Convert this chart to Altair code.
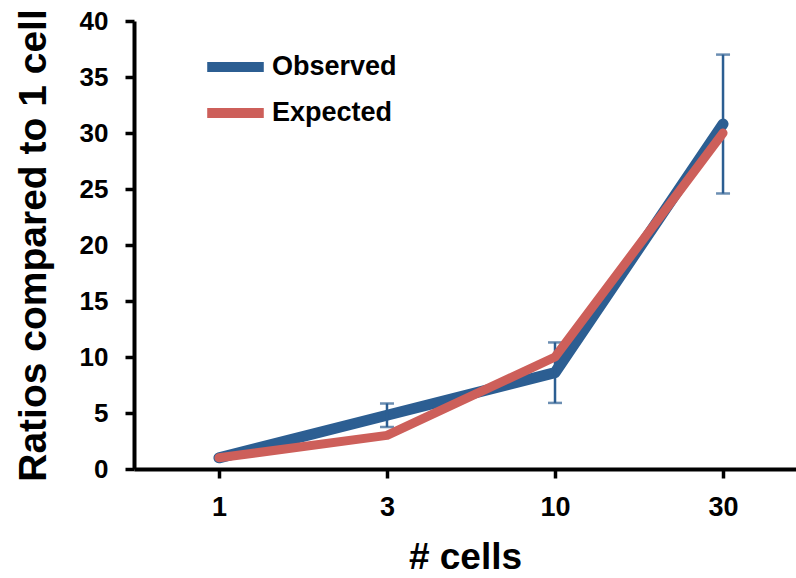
import altair as alt
import pandas as pd

cells = ["1", "3", "10", "30"]
observed = [1.0, 4.8, 8.6, 30.8]
obs_err = [0.0, 1.05, 2.7, 6.2]
expected = [1.0, 3.0, 10.0, 30.0]

series = ["Observed", "Expected"]
colors = ["#2C5E92", "#CD5F5A"]

rows = []
for c, o, e, x in zip(cells, observed, obs_err, expected):
    rows.append({"cells": c, "series": "Observed", "value": o, "lo": o - e, "hi": o + e, "err": e})
    rows.append({"cells": c, "series": "Expected", "value": x, "lo": x, "hi": x, "err": 0.0})
df = pd.DataFrame(rows)

FONT = "Liberation Sans"
xscale = alt.Scale(type="point", domain=cells, padding=0.47, align=0.538)
yscale = alt.Scale(domain=[0, 40], nice=False, zero=True)
cscale = alt.Scale(domain=series, range=colors)

x_enc = alt.X("cells:N", scale=xscale, sort=cells,
              axis=alt.Axis(title="# cells", labelAngle=0, labelFontSize=27,
                            labelPadding=16, titleFontSize=37, titlePadding=19))
y_axis = alt.Axis(title="Ratios compared to 1 cell", values=list(range(0, 41, 5)),
                  labelFontSize=26, labelPadding=17, titleFontSize=39, titlePadding=26,
                  grid=False)

base = alt.Chart(df)

obs_line = base.transform_filter(alt.datum.series == "Observed").mark_line(
    strokeWidth=11, strokeCap="round", strokeJoin="round"
).encode(
    x=x_enc,
    y=alt.Y("value:Q", scale=yscale, axis=y_axis),
    color=alt.Color("series:N", scale=cscale, sort=series,
                    legend=alt.Legend(title=None, orient="none", legendX=68, legendY=23,
                                      symbolType="stroke", symbolSize=3200,
                                      symbolStrokeWidth=10, labelFontSize=27,
                                      labelFontWeight="bold", labelFont=FONT,
                                      labelColor="black", rowPadding=0, clipHeight=46,
                                      labelOffset=3, padding=0)),
)

err_src = base.transform_filter((alt.datum.series == "Observed") & (alt.datum.err > 0))

err_rule = err_src.mark_rule(color=colors[0], strokeWidth=2.5).encode(
    x=alt.X("cells:N", scale=xscale, sort=cells),
    y=alt.Y("lo:Q", scale=yscale),
    y2="hi:Q",
)
err_lo = err_src.mark_tick(color=colors[0], thickness=2.5, size=14).encode(
    x=alt.X("cells:N", scale=xscale, sort=cells),
    y=alt.Y("lo:Q", scale=yscale),
)
err_hi = err_src.mark_tick(color=colors[0], thickness=2.5, size=14).encode(
    x=alt.X("cells:N", scale=xscale, sort=cells),
    y=alt.Y("hi:Q", scale=yscale),
)

exp_line = base.transform_filter(alt.datum.series == "Expected").mark_line(
    strokeWidth=9, strokeCap="round", strokeJoin="round"
).encode(
    x=alt.X("cells:N", scale=xscale, sort=cells),
    y=alt.Y("value:Q", scale=yscale),
    color=alt.Color("series:N", scale=cscale, sort=series),
)

chart = alt.layer(obs_line, err_rule, err_lo, err_hi, exp_line).properties(
    width=662, height=448,
    autosize=alt.AutoSizeParams(type="none"),
    padding={"left": 134, "top": 21, "right": 0, "bottom": 109},
    background="white",
).configure_view(stroke=None).configure_axis(
    labelFont=FONT, titleFont=FONT, labelFontWeight="bold", titleFontWeight="bold",
    labelColor="black", titleColor="black", domainColor="black", tickColor="black",
    domainWidth=4, tickWidth=3.5, tickSize=9,
)

chart.save("out.html", embed_options={"renderer": "svg", "actions": False})
